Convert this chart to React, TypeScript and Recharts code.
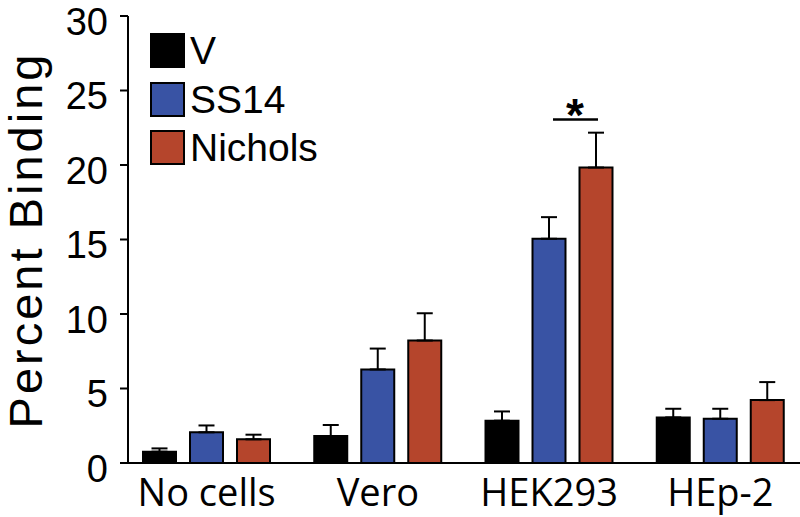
import React from "react";
import {
  BarChart,
  Bar,
  XAxis,
  YAxis,
  ErrorBar,
  Legend,
  LabelList,
} from "recharts";

const categories = ["No cells", "Vero", "HEK293", "HEp-2"];
const seriesNames = ["V", "SS14", "Nichols"];
const vValues = [0.76, 1.81, 2.84, 3.06];
const vErr = [0.22, 0.74, 0.62, 0.58];
const ss14Values = [2.06, 6.28, 15.05, 2.97];
const ss14Err = [0.46, 1.4, 1.45, 0.67];
const nicholsValues = [1.59, 8.22, 19.83, 4.22];
const nicholsErr = [0.31, 1.83, 2.34, 1.21];
// height of the significance bracket (SS14 vs Nichols), only for HEK293
const sigLevel = [null, null, 23.05, null];
const yTicks = [0, 5, 10, 15, 20, 25, 30];

const BLUE = "#3953a4";
const ORANGE = "#b5452c";
const ARIAL = "'Liberation Sans', Arial, sans-serif";

const data = categories.map((name, i) => ({
  name,
  V: vValues[i],
  SS14: ss14Values[i],
  Nichols: nicholsValues[i],
  vErr: [0, vErr[i]],
  ss14Err: [0, ss14Err[i]],
  nicholsErr: [0, nicholsErr[i]],
  sig: sigLevel[i],
}));

function YTick(props: any) {
  const { x, y, payload } = props;
  return (
    <text x={x} y={y} dy={18.5} textAnchor="end" fontSize={38} fontFamily={ARIAL} fill="#000">
      {payload.value}
    </text>
  );
}

function XTick(props: any) {
  const { x, y, payload } = props;
  return (
    <text x={x} y={y} dy={43} textAnchor="middle" fontSize={38} fontFamily="'Open Sans', sans-serif" fill="#000">
      {payload.value}
    </text>
  );
}

function YLabel() {
  return (
    <text
      x={42}
      y={240}
      transform="rotate(-90, 42, 240)"
      textAnchor="middle"
      fontSize={47}
      letterSpacing={3}
      fontFamily={ARIAL}
      fill="#000"
    >
      Percent Binding
    </text>
  );
}

function SigMark(props: any) {
  const { index, value } = props;
  if (value == null) return null;
  const vb = props.viewBox ?? props;
  const { x, y, width, height } = vb;
  const pxPerUnit = height / nicholsValues[index];
  const lineY = y + height - value * pxPerUnit;
  const cx = x + width / 2;
  return (
    <g>
      <line x1={cx - 43} x2={cx + 2} y1={lineY} y2={lineY} stroke="#000" strokeWidth={2.5} />
      <text x={cx - 21} y={lineY + 11.5} textAnchor="middle" fontSize={46} fontWeight="bold" fontFamily={ARIAL} fill="#000">
        *
      </text>
    </g>
  );
}

function LegendBox(props: any) {
  const items = [...(props.payload || [])].sort(
    (a: any, b: any) => seriesNames.indexOf(a.value) - seriesNames.indexOf(b.value)
  );
  return (
    <div>
      {items.map((p: any) => (
        <div key={p.value} style={{ display: "flex", height: 48.5, alignItems: "flex-start" }}>
          <div
            style={{
              width: 35,
              height: 35,
              boxSizing: "border-box",
              border: "2px solid #000",
              background: p.color,
              marginRight: 5,
            }}
          />
          <span style={{ fontSize: 39, lineHeight: "35px", fontFamily: ARIAL, color: "#000" }}>
            {p.value}
          </span>
        </div>
      ))}
    </div>
  );
}

export default function App() {
  return (
    <div style={{ position: "absolute", left: 0, top: 0, width: 800, height: 517, background: "#fff" }}>
      <BarChart
        width={800}
        height={517}
        data={data}
        margin={{ top: 16, right: 0, bottom: 0, left: 0 }}
        barSize={33}
        barGap={14}
      >
        <XAxis
          dataKey="name"
          height={54}
          interval={0}
          tickLine={false}
          tickSize={0}
          tickMargin={0}
          axisLine={{ stroke: "#000", strokeWidth: 2 }}
          padding={{ left: -7, right: -6 }}
          tick={<XTick />}
        />
        <YAxis
          width={128}
          domain={[0, 30]}
          ticks={yTicks}
          interval={0}
          tickSize={8}
          tickMargin={12}
          axisLine={{ stroke: "#000", strokeWidth: 2 }}
          tickLine={{ stroke: "#000", strokeWidth: 2 }}
          tick={<YTick />}
          label={<YLabel />}
        />
        <Legend
          layout="vertical"
          align="center"
          verticalAlign="middle"
          wrapperStyle={{ left: 150, top: 33, width: "auto" }}
          content={<LegendBox />}
        />
        <Bar dataKey="V" name="V" fill="#000" stroke="#000" strokeWidth={2} isAnimationActive={false}>
          <ErrorBar dataKey="vErr" width={8} stroke="#000" strokeWidth={2} />
        </Bar>
        <Bar dataKey="SS14" name="SS14" fill={BLUE} stroke="#000" strokeWidth={2} isAnimationActive={false}>
          <ErrorBar dataKey="ss14Err" width={8} stroke="#000" strokeWidth={2} />
        </Bar>
        <Bar dataKey="Nichols" name="Nichols" fill={ORANGE} stroke="#000" strokeWidth={2} isAnimationActive={false}>
          <ErrorBar dataKey="nicholsErr" width={8} stroke="#000" strokeWidth={2} />
          <LabelList dataKey="sig" content={<SigMark />} />
        </Bar>
      </BarChart>
    </div>
  );
}
